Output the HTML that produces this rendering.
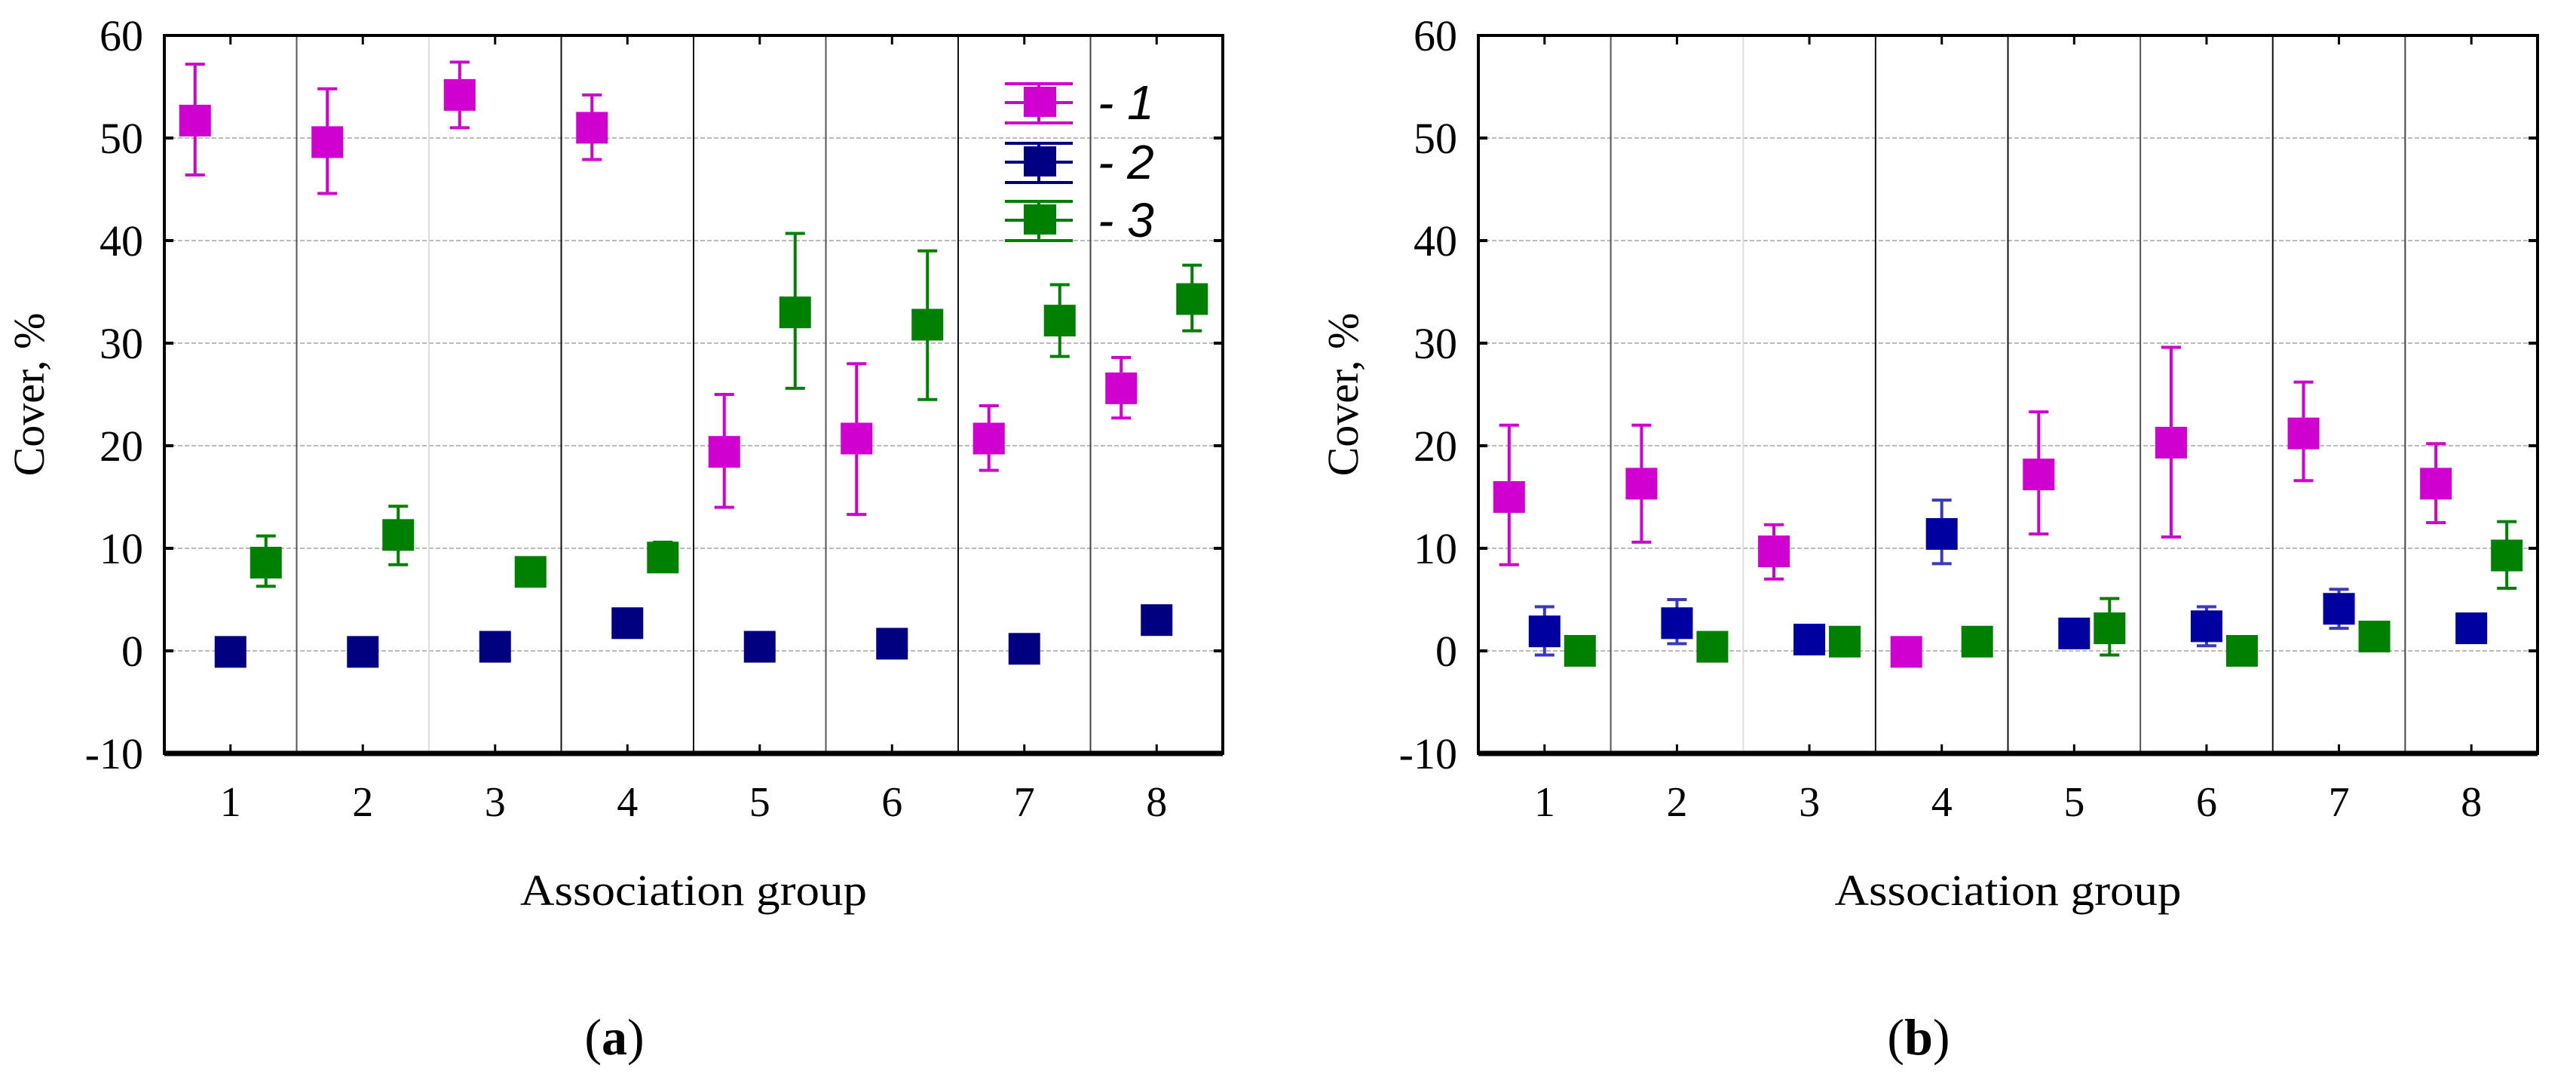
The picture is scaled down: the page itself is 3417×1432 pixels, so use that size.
<!DOCTYPE html>
<html><head><meta charset="utf-8"><style>
html,body{margin:0;padding:0;background:#fff;}
svg{display:block;}
text{font-family:"Liberation Serif",serif;fill:#000;}
</style></head><body>
<svg id="chart" xmlns="http://www.w3.org/2000/svg" width="3417" height="1432" viewBox="0 0 3417 1432">
<rect width="3417" height="1432" fill="#fff"/>
</svg>
<script>
const groups = ["1","2","3","4","5","6","7","8"];
const yTicks = [-10,0,10,20,30,40,50,60];
const seriesNames = ["1","2","3"];
const seriesColors = ["#d000d0","#000080","#008000"];
// Panel a: mean, low, high per series
const aMean1 = [51.7,49.6,54.2,51.0,19.4,20.7,20.7,25.6];
const aLow1  = [46.4,44.6,51.0,47.9,14.0,13.3,17.6,22.7];
const aHigh1 = [57.2,54.8,57.4,54.2,25.0,28.0,23.9,28.6];
const aMean2 = [-0.1,-0.1,0.4,2.7,0.4,0.7,0.2,3.0];
const aLow2  = [-0.1,-0.1,0.4,2.7,0.4,0.5,0.2,3.0];
const aHigh2 = [-0.1,-0.1,0.4,2.7,0.4,1.0,0.2,3.0];
const aMean3 = [8.6,11.3,7.7,9.1,33.0,31.8,32.2,34.3];
const aLow3  = [6.3,8.4,7.7,8.2,25.6,24.5,28.7,31.2];
const aHigh3 = [11.2,14.1,7.7,10.6,40.7,39.0,35.7,37.6];
// Panel b
const bMean1 = [15.0,16.3,9.7,-0.1,17.2,20.3,21.2,16.3];
const bLow1  = [8.4,10.6,7.0,-0.1,11.4,11.1,16.6,12.5];
const bHigh1 = [22.0,22.0,12.3,-0.1,23.3,29.6,26.2,20.2];
const bMean2 = [1.9,2.7,1.1,11.4,1.7,2.4,4.1,2.2];
const bLow2  = [-0.4,0.7,1.1,8.5,1.7,0.5,2.2,2.2];
const bHigh2 = [4.3,5.0,1.1,14.7,1.7,4.3,6.0,2.2];
const bMean3 = [0.0,0.4,0.9,0.9,2.2,0.0,1.4,9.3];
const bLow3  = [0.0,0.4,0.9,0.9,-0.4,0.0,1.4,6.1];
const bHigh3 = [0.0,0.4,0.9,0.9,5.1,0.0,1.4,12.6];

const NS="http://www.w3.org/2000/svg";
const svg=document.getElementById('chart');
function mk(tag,attrs,parent){const e=document.createElementNS(NS,tag);for(const k in attrs)e.setAttribute(k,attrs[k]);(parent||svg).appendChild(e);return e;}

function panel(id,L,R,letter,letterX,series,legend,colors,barColors){
  const T=47,B=999,ymin=-10,ymax=60;
  const y=v=>B-(v-ymin)/(ymax-ymin)*(B-T);
  const gw=(R-L)/groups.length;
  const x=i=>L+gw*(i+0.5);
  const g=mk('g',{});
  
  
  yTicks.forEach(t=>{
    if(t>ymin&&t<ymax){const gl=mk('line',{x1:L,x2:R,y1:y(t),y2:y(t),stroke:'#bbb','stroke-width':2,'stroke-dasharray':'6,3'},g);
    
    }
  });
  const sepCol=['#555','#ddd','#111','#111','#555','#111','#444'];
  for(let i=1;i<groups.length;i++){
    const s=mk('line',{x1:L+gw*i,x2:L+gw*i,y1:T,y2:B,stroke:sepCol[i-1],'stroke-width':2},g);
    
    
  }
  yTicks.forEach(t=>{
    mk('line',{x1:L,x2:L+12,y1:y(t),y2:y(t),stroke:'#000','stroke-width':4},g);
    mk('line',{x1:R-12,x2:R,y1:y(t),y2:y(t),stroke:'#000','stroke-width':4},g);
    const tl=mk('text',{x:L-28,y:y(t)+20,'font-size':58,'text-anchor':'end'},g);
    
    
    tl.textContent=t;
  });
  groups.forEach((c,i)=>{
    mk('line',{x1:x(i),x2:x(i),y1:T,y2:T+12,stroke:'#000','stroke-width':3},g);
    mk('line',{x1:x(i),x2:x(i),y1:B-12,y2:B,stroke:'#000','stroke-width':3},g);
    const xl=mk('text',{x:x(i),y:1082,'font-size':56,'text-anchor':'middle'},g);
    
    
    xl.textContent=c;
  });
  const fr=mk('rect',{x:L,y:T,width:R-L,height:B-T,fill:'none',stroke:'#000','stroke-width':4},g);
  
  
  mk('line',{x1:L,x2:R,y1:B,y2:B,stroke:'#000','stroke-width':7},g);
  const offs=[-47,0,47];
  series.forEach((s,si)=>{
    const sg=mk('g',{},g);
    
    
    s.mean.forEach((m,i)=>{
      const cx=x(i)+offs[si],col=colors[si];
      if(s.high[i]-s.low[i]>0.3){
        const eb=mk('path',{d:`M${cx},${y(s.low[i])}V${y(s.high[i])}M${cx-13},${y(s.low[i])}h26M${cx-13},${y(s.high[i])}h26`,stroke:barColors[si],'stroke-width':4,fill:'none'},sg);
        
        
      }
      const r=mk('rect',{x:cx-21,y:y(m)-21,width:42,height:42,fill:col},sg);
      
      
    });
  });
  const yt=mk('text',{x:0,y:0,'font-size':58,'text-anchor':'middle',transform:`translate(${L-160},${(T+B)/2}) rotate(-90)`},g);
  
  
  yt.textContent='Cover, %';
  const xt=mk('text',{x:(L+R)/2,y:1200,'font-size':58,'text-anchor':'middle',textLength:460,lengthAdjust:'spacingAndGlyphs'},g);
  
  
  xt.textContent='Association group';
  const pl=mk('text',{x:letterX,y:1398,'font-size':68,'text-anchor':'middle'},g);
  
  
  pl.innerHTML='(<tspan font-weight="bold">'+letter+'</tspan>)';
  if(legend){
    const lg=mk('g',{},g);
    
    
    const ly=[136,215,292];
    seriesNames.forEach((n,si)=>{
      const cy=ly[si],col=colors[si];
      const le=mk('g',{},lg);
      
      
      mk('path',{d:`M1333,${cy-25}h90M1333,${cy+27}h90M1333,${cy}h90M1378,${cy-25}V${cy+27}`,stroke:col,'stroke-width':4},le);
      mk('rect',{x:1358,y:cy-21,width:43,height:40,fill:col},le);
      const t=mk('text',{x:1456,y:cy+22,'font-size':64,'font-style':'italic',style:'font-family:"Liberation Sans",sans-serif'},le);
      t.textContent='- '+n;
    });
  }
}
panel('a',218,1622,'a',815,[
  {mean:aMean1,low:aLow1,high:aHigh1},{mean:aMean2,low:aLow2,high:aHigh2},{mean:aMean3,low:aLow3,high:aHigh3}],true,
  seriesColors,seriesColors);
panel('b',1961,3366,'b',2545,[
  {mean:bMean1,low:bLow1,high:bHigh1},{mean:bMean2,low:bLow2,high:bHigh2},{mean:bMean3,low:bLow3,high:bHigh3}],false,
  ["#d000d0","#0000a0","#008000"],["#d000d0","#3838c0","#008000"]);
</script>
</body></html>
